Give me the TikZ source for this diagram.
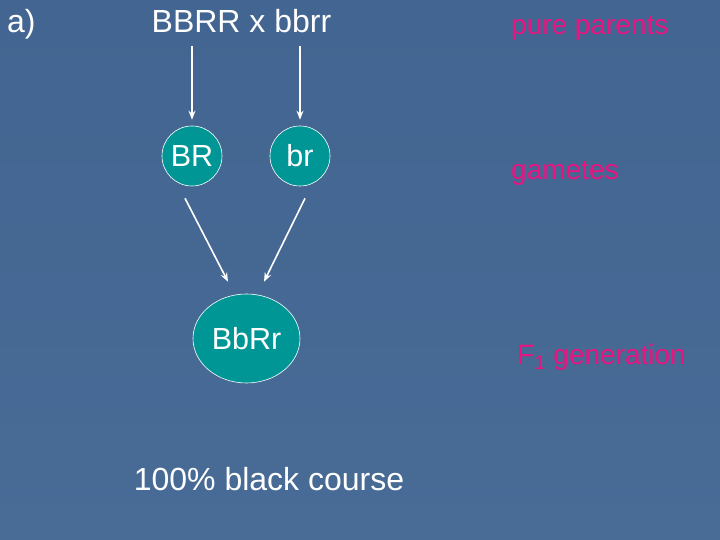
\documentclass[tikz,border=0pt]{standalone}
\usepackage{fontspec}
\setmainfont{Liberation Sans}
\usepackage{tikz}
\usetikzlibrary{arrows.meta,shapes.geometric}
\definecolor{slidetop}{RGB}{66,101,145}
\definecolor{slidemid}{RGB}{88,123,163}
\definecolor{slidebot}{RGB}{72,108,150}
\definecolor{gamfill}{RGB}{0,150,150}
\definecolor{notepink}{RGB}{232,20,128}
\tikzset{
  flow/.style={>={Stealth[length=9pt,width=7pt]},line width=1.6pt,draw=white},
  lab/.style={text=white,inner sep=0pt,font=\fontsize{32}{38}\selectfont},
  note/.style={text=notepink,inner sep=0pt,anchor=base west,font=\fontsize{28}{34}\selectfont},
  gam/.style={circle,draw=white,line width=0.6pt,fill=gamfill,minimum size=60pt,
    inner sep=0pt,text=white,font=\fontsize{30.5}{36}\selectfont},
  zyg/.style={ellipse,draw=white,line width=0.6pt,fill=gamfill,minimum width=107pt,
    minimum height=89pt,inner sep=0pt,text=white,font=\fontsize{30.5}{36}\selectfont},
}
\begin{document}
\begin{tikzpicture}[x=1pt,y=1pt]
\shade[top color=slidetop,middle color=slidemid,bottom color=slidebot]
  (0,0) rectangle (720,540);
\useasboundingbox (0,0) rectangle (720,540);
\node[lab,anchor=base west] (part) at (7,507) {a)};
\node[lab,anchor=base] (cross) at (241.5,507) {BBRR x bbrr};
\node[gam] (gBR) at (192,384) {BR};
\node[gam] (gbr) at (300,384) {br};
\node[zyg] (fone) at (246.5,201.5) {BbRr};
\node[lab,anchor=base] (res) at (269,49) {100\% black course};
\node[note] (npar) at (511,505) {pure parents};
\node[note] (ngam) at (511,360) {gametes};
\node[note] (nfone) at (517,175) {F\textsubscript{1} generation};
\draw[flow,->,shorten <=12pt,shorten >=6pt] (gBR |- cross.south) -- (gBR.north);
\draw[flow,->,shorten <=12pt,shorten >=6pt] (gbr |- cross.south) -- (gbr.north);
\draw[flow,->] ([shift={(-7,-12)}]gBR.south) -- ([shift={(-18.5,12)}]fone.north);
\draw[flow,->] ([shift={(5,-12)}]gbr.south) -- ([shift={(17.5,12)}]fone.north);
\end{tikzpicture}
\end{document}
